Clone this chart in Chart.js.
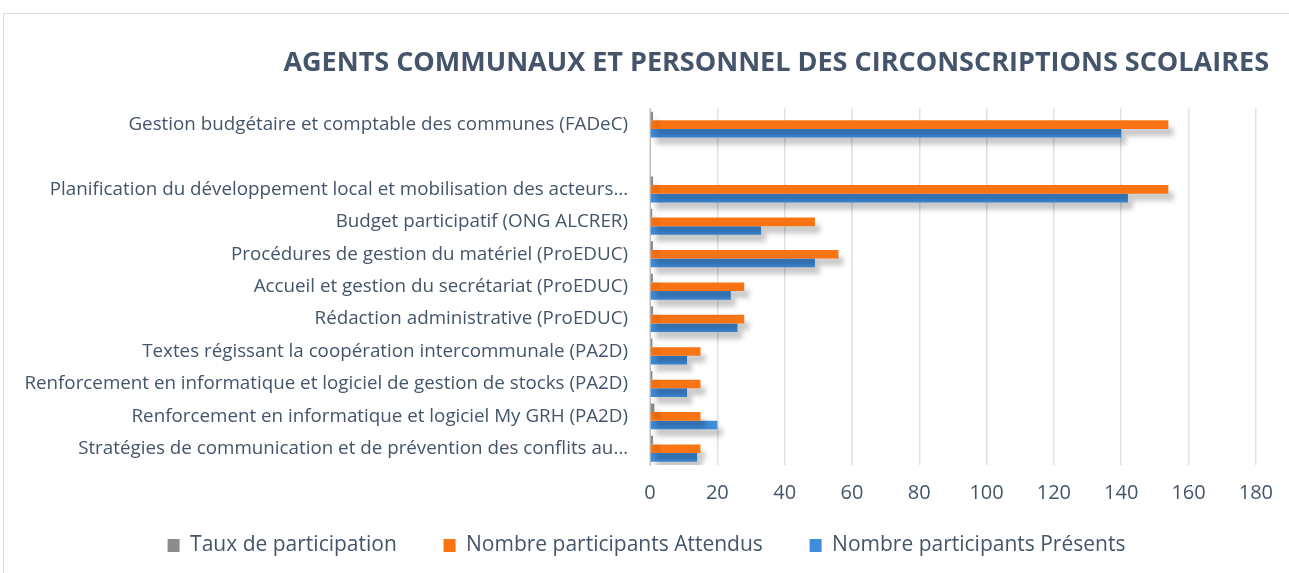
<!DOCTYPE html>
<html>
<head>
<meta charset="utf-8">
<script src="https://cdn.jsdelivr.net/npm/chart.js@4/dist/chart.umd.min.js"></script>
<style>
  body { margin: 0; background: #fff; }
  #frame { position: absolute; left: 3px; top: 13px; width: 1290px; height: 570px;
           border-top: 1px solid #d9dde3; border-left: 1px solid #d9dde3; }
  #wrap { position: absolute; left: 0; top: 0; width: 1289px; height: 573px; }
</style>
</head>
<body>
<div id="frame"></div>
<div id="wrap"><canvas id="chart"></canvas></div>
<script>
const categories = [
  'Gestion budgétaire et comptable des communes (FADeC)',
  '',
  'Planification du développement local et mobilisation des acteurs…',
  'Budget participatif (ONG ALCRER)',
  'Procédures de gestion du matériel (ProEDUC)',
  'Accueil et gestion du secrétariat (ProEDUC)',
  'Rédaction administrative (ProEDUC)',
  'Textes régissant la coopération intercommunale (PA2D)',
  'Renforcement en informatique et logiciel de gestion de stocks (PA2D)',
  'Renforcement en informatique et logiciel My GRH (PA2D)',
  'Stratégies de communication et de prévention des conflits au…'
];
const tauxParticipation = [0.91, null, 0.92, 0.67, 0.88, 0.86, 0.93, 0.73, 0.73, 1.33, 0.93];
const attendus = [154, null, 154, 49, 56, 28, 28, 15, 15, 15, 15];
const presents = [140, null, 142, 33, 49, 24, 26, 11, 11, 20, 14];
const xTicks = [0, 20, 40, 60, 80, 100, 120, 140, 160, 180];

const textColor = '#44546a';
const fontName = "'Open Sans'";

// soft drop shadow under the bars, like the 3D look of the original
const shadowPlugin = {
  id: 'barShadow',
  beforeDatasetsDraw(chart) {
    const ctx = chart.ctx;
    ctx.save();
    ctx.shadowColor = 'rgba(0,0,0,0.22)';
    ctx.shadowBlur = 5;
    ctx.shadowOffsetX = 5;
    ctx.shadowOffsetY = 7;
  },
  afterDatasetsDraw(chart) {
    chart.ctx.restore();
  }
};

new Chart(document.getElementById('chart'), {
  type: 'bar',
  data: {
    labels: categories,
    datasets: [
      { label: 'Taux de participation', data: tauxParticipation, backgroundColor: '#8c8c8c' },
      { label: 'Nombre participants Attendus', data: attendus, backgroundColor: '#fa7414' },
      { label: 'Nombre participants Présents', data: presents, backgroundColor: '#3f8cdb' }
    ]
  },
  options: {
    indexAxis: 'y',
    responsive: true,
    maintainAspectRatio: false,
    animation: false,
    layout: { padding: { left: 24, right: 20, bottom: 7 } },
    datasets: {
      bar: { categoryPercentage: 0.8, barPercentage: 1.0 }
    },
    scales: {
      x: {
        min: 0,
        max: 180,
        afterBuildTicks: (axis) => { axis.ticks = xTicks.map(v => ({ value: v })); },
        grid: { color: '#dce1e7', lineWidth: 1.5, drawTicks: false },
        border: { display: false },
        ticks: { color: textColor, padding: 16, font: { family: fontName, size: 20 } }
      },
      y: {
        afterFit: (axis) => { axis.width = 626; },
        grid: { display: false, drawTicks: false },
        border: { color: '#bfbfbf' },
        ticks: { color: textColor, padding: 22, autoSkip: false, font: { family: fontName, size: 18.8 } }
      }
    },
    plugins: {
      title: {
        display: true,
        text: 'AGENTS COMMUNAUX ET PERSONNEL DES CIRCONSCRIPTIONS SCOLAIRES',
        align: 'end',
        color: textColor,
        font: { family: fontName, size: 27, weight: 'bold' },
        padding: { top: 47, bottom: 29 }
      },
      legend: {
        position: 'bottom',
        labels: {
          color: textColor,
          boxWidth: 12,
          boxHeight: 13,
          padding: 14,
          font: { family: fontName, size: 21 },
          generateLabels: (chart) => {
            const items = Chart.defaults.plugins.legend.labels.generateLabels(chart);
            // widen the gap between entries without adding vertical room
            items.forEach((it, i) => { if (i < items.length - 1) it.text += '      '; });
            return items;
          }
        }
      },
      tooltip: { enabled: true }
    }
  },
  plugins: [shadowPlugin]
});
</script>
</body>
</html>
